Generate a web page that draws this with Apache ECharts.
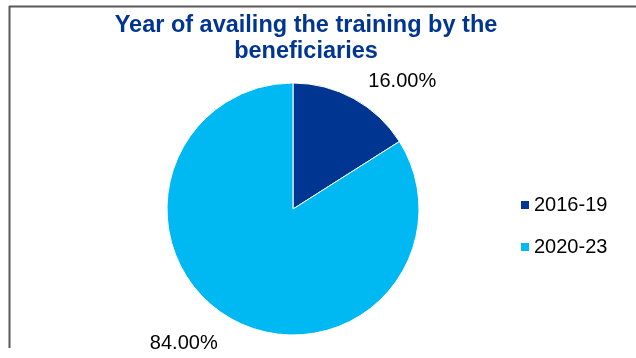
<!DOCTYPE html>
<html>
<head>
<meta charset="utf-8">
<script src="https://cdn.jsdelivr.net/npm/echarts@6/dist/echarts.min.js"></script>
<style>
  html, body { margin: 0; padding: 0; background: #ffffff; }
  #chart { width: 636px; height: 358px; }
</style>
</head>
<body>
<div id="chart"></div>
<script>
// Share of beneficiaries by the period in which they took the training
const periods = ['2016-19', '2020-23'];
const shares = [16.00, 84.00];
const sliceColors = ['#003591', '#00B9F2'];

const FONT = '"Liberation Sans", Arial, sans-serif';

const chart = echarts.init(document.getElementById('chart'), null, { renderer: 'canvas' });

chart.setOption({
  backgroundColor: '#ffffff',
  animation: false,
  title: {
    text: 'Year of availing the training by the\nbeneficiaries',
    left: 306,
    textAlign: 'center',
    top: 13,
    padding: 0,
    textStyle: {
      fontFamily: FONT,
      fontWeight: 'bold',
      fontSize: 23.5,
      lineHeight: 26,
      color: '#003591'
    }
  },
  legend: {
    orient: 'vertical',
    left: 519,
    top: 195,
    padding: 0,
    itemWidth: 10,
    itemHeight: 10,
    itemGap: 22,
    icon: 'rect',
    textStyle: { fontFamily: FONT, fontSize: 20, color: '#000000', padding: [0, 0, 0, -1] },
    data: periods
  },
  graphic: [
    { type: 'line', shape: { x1: 9, y1: 6.5, x2: 636, y2: 6.5 }, style: { stroke: '#595959', lineWidth: 2 } },
    { type: 'line', shape: { x1: 9.5, y1: 6, x2: 9.5, y2: 348 }, style: { stroke: '#595959', lineWidth: 2 } }
  ],
  series: [{
    type: 'pie',
    center: [293, 209],
    radius: 126,
    startAngle: 90,
    clockwise: true,
    avoidLabelOverlap: false,
    itemStyle: { borderColor: '#ffffff', borderWidth: 1 },
    label: {
      show: true,
      position: 'outside',
      fontFamily: FONT,
      fontSize: 20,
      color: '#000000',
      formatter: p => p.value.toFixed(2) + '%'
    },
    labelLine: { show: false, length: 20, length2: 0 },
    // the lower label sits a little further below the pie
    labelLayout: p => (p.dataIndex === 1 ? { dy: 7 } : {}),
    data: periods.map((name, i) => ({
      name: name,
      value: shares[i],
      itemStyle: { color: sliceColors[i] }
    }))
  }]
});
</script>
</body>
</html>
